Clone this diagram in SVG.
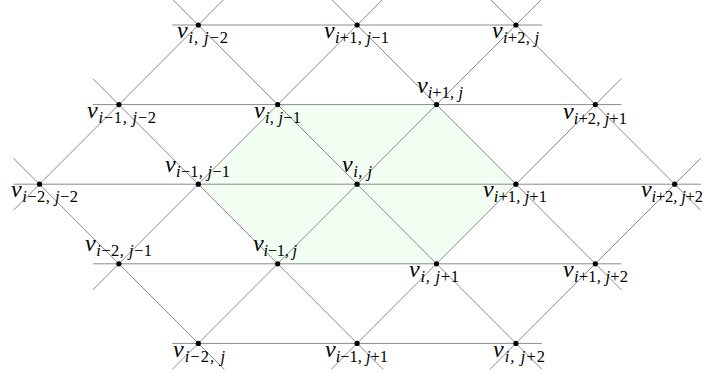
<svg xmlns="http://www.w3.org/2000/svg" width="704" height="377" viewBox="0 0 704 377">
<style>
.ln{stroke:#8a8a8a;stroke-width:1;fill:none}
.dot{fill:#000}
.reg{fill:#f2fff2;stroke:none}
</style>
<rect width="704" height="377" fill="#fff"/>
<g id="region">
<polygon class="reg" points="277.7,104.6 436.5,104.6 515.9,184.2 436.5,263.8 277.7,263.8 198.3,184.2"/>
</g>
<g id="connectors" class="ln">
<line x1="172.3" y1="25" x2="541.9" y2="25"/>
<line x1="92.9" y1="104.6" x2="621.3" y2="104.6"/>
<line x1="13.5" y1="184.2" x2="700.7" y2="184.2"/>
<line x1="92.9" y1="263.8" x2="621.3" y2="263.8"/>
<line x1="172.3" y1="343.4" x2="541.9" y2="343.4"/>
<line x1="13.5" y1="158.2" x2="224.3" y2="369.4"/>
<line x1="92.9" y1="78.6" x2="383.1" y2="369.4"/>
<line x1="172.3" y1="-1" x2="541.9" y2="369.4"/>
<line x1="331.1" y1="-1" x2="621.3" y2="289.8"/>
<line x1="489.9" y1="-1" x2="700.7" y2="210.2"/>
<line x1="13.5" y1="210.2" x2="224.3" y2="-1"/>
<line x1="92.9" y1="289.8" x2="383.1" y2="-1"/>
<line x1="172.3" y1="369.4" x2="541.9" y2="-1"/>
<line x1="331.1" y1="369.4" x2="621.3" y2="78.6"/>
<line x1="489.9" y1="369.4" x2="700.7" y2="158.2"/>
</g>
<g id="nodes" font-family="'Liberation Serif', 'Times New Roman', serif" font-style="italic" font-size="24" fill="#000">
<g id="v_i_jm2"><circle class="dot" cx="198.3" cy="25" r="2.6"/><text x="177" y="38" textLength="51" lengthAdjust="spacing">v<tspan font-size="16.5" dy="5">i, j<tspan font-style="normal">−2</tspan></tspan></text></g>
<g id="v_ip1_jm1"><circle class="dot" cx="357.1" cy="25" r="2.6"/><text x="324" y="38" textLength="65" lengthAdjust="spacing">v<tspan font-size="16.5" dy="5">i<tspan font-style="normal">+1</tspan>, j<tspan font-style="normal">−1</tspan></tspan></text></g>
<g id="v_ip2_j"><circle class="dot" cx="515.9" cy="25" r="2.6"/><text x="492" y="38" textLength="47" lengthAdjust="spacing">v<tspan font-size="16.5" dy="5">i<tspan font-style="normal">+2</tspan>, j</tspan></text></g>
<g id="v_im1_jm2"><circle class="dot" cx="118.9" cy="104.6" r="2.6"/><text x="87" y="117.5" textLength="69" lengthAdjust="spacing">v<tspan font-size="16.5" dy="5">i<tspan font-style="normal">−1</tspan>, j<tspan font-style="normal">−2</tspan></tspan></text></g>
<g id="v_i_jm1"><circle class="dot" cx="277.7" cy="104.6" r="2.6"/><text x="254" y="117.5" textLength="47" lengthAdjust="spacing">v<tspan font-size="16.5" dy="5">i, j<tspan font-style="normal">−1</tspan></tspan></text></g>
<g id="v_ip1_j"><circle class="dot" cx="436.5" cy="104.6" r="2.6"/><text x="417" y="93" textLength="46" lengthAdjust="spacing">v<tspan font-size="16.5" dy="5">i<tspan font-style="normal">+1</tspan>, j</tspan></text></g>
<g id="v_ip2_jp1"><circle class="dot" cx="595.3" cy="104.6" r="2.6"/><text x="563" y="118.5" textLength="64" lengthAdjust="spacing">v<tspan font-size="16.5" dy="5">i<tspan font-style="normal">+2</tspan>, j<tspan font-style="normal">+1</tspan></tspan></text></g>
<g id="v_im2_jm2"><circle class="dot" cx="39.5" cy="184.2" r="2.6"/><text x="11" y="197" textLength="67" lengthAdjust="spacing">v<tspan font-size="16.5" dy="5">i<tspan font-style="normal">−2</tspan>, j<tspan font-style="normal">−2</tspan></tspan></text></g>
<g id="v_im1_jm1"><circle class="dot" cx="198.3" cy="184.2" r="2.6"/><text x="165" y="172" textLength="65" lengthAdjust="spacing">v<tspan font-size="16.5" dy="5">i<tspan font-style="normal">−1</tspan>, j<tspan font-style="normal">−1</tspan></tspan></text></g>
<g id="v_i_j"><circle class="dot" cx="357.1" cy="184.2" r="2.6"/><text x="342" y="172" textLength="30" lengthAdjust="spacing">v<tspan font-size="16.5" dy="5">i, j</tspan></text></g>
<g id="v_ip1_jp1"><circle class="dot" cx="515.9" cy="184.2" r="2.6"/><text x="483" y="197" textLength="64" lengthAdjust="spacing">v<tspan font-size="16.5" dy="5">i<tspan font-style="normal">+1</tspan>, j<tspan font-style="normal">+1</tspan></tspan></text></g>
<g id="v_ip2_jp2"><circle class="dot" cx="674.7" cy="184.2" r="2.6"/><text x="641" y="197" textLength="62" lengthAdjust="spacing">v<tspan font-size="16.5" dy="5">i<tspan font-style="normal">+2</tspan>, j<tspan font-style="normal">+2</tspan></tspan></text></g>
<g id="v_im2_jm1"><circle class="dot" cx="118.9" cy="263.8" r="2.6"/><text x="85" y="251" textLength="67" lengthAdjust="spacing">v<tspan font-size="16.5" dy="5">i<tspan font-style="normal">−2</tspan>, j<tspan font-style="normal">−1</tspan></tspan></text></g>
<g id="v_im1_j"><circle class="dot" cx="277.7" cy="263.8" r="2.6"/><text x="253" y="251" textLength="44" lengthAdjust="spacing">v<tspan font-size="16.5" dy="5">i<tspan font-style="normal">−1</tspan>, j</tspan></text></g>
<g id="v_i_jp1"><circle class="dot" cx="436.5" cy="263.8" r="2.6"/><text x="409" y="277" textLength="50" lengthAdjust="spacing">v<tspan font-size="16.5" dy="5">i, j<tspan font-style="normal">+1</tspan></tspan></text></g>
<g id="v_ip1_jp2"><circle class="dot" cx="595.3" cy="263.8" r="2.6"/><text x="563" y="277" textLength="65" lengthAdjust="spacing">v<tspan font-size="16.5" dy="5">i<tspan font-style="normal">+1</tspan>, j<tspan font-style="normal">+2</tspan></tspan></text></g>
<g id="v_im2_j"><circle class="dot" cx="198.3" cy="343.4" r="2.6"/><text x="173" y="357" textLength="52" lengthAdjust="spacing">v<tspan font-size="16.5" dy="5">i<tspan font-style="normal">−2</tspan>, j</tspan></text></g>
<g id="v_im1_jp1"><circle class="dot" cx="357.1" cy="343.4" r="2.6"/><text x="325" y="357" textLength="63" lengthAdjust="spacing">v<tspan font-size="16.5" dy="5">i<tspan font-style="normal">−1</tspan>, j<tspan font-style="normal">+1</tspan></tspan></text></g>
<g id="v_i_jp2"><circle class="dot" cx="515.9" cy="343.4" r="2.6"/><text x="493" y="357" textLength="52" lengthAdjust="spacing">v<tspan font-size="16.5" dy="5">i, j<tspan font-style="normal">+2</tspan></tspan></text></g>
</g>
</svg>
